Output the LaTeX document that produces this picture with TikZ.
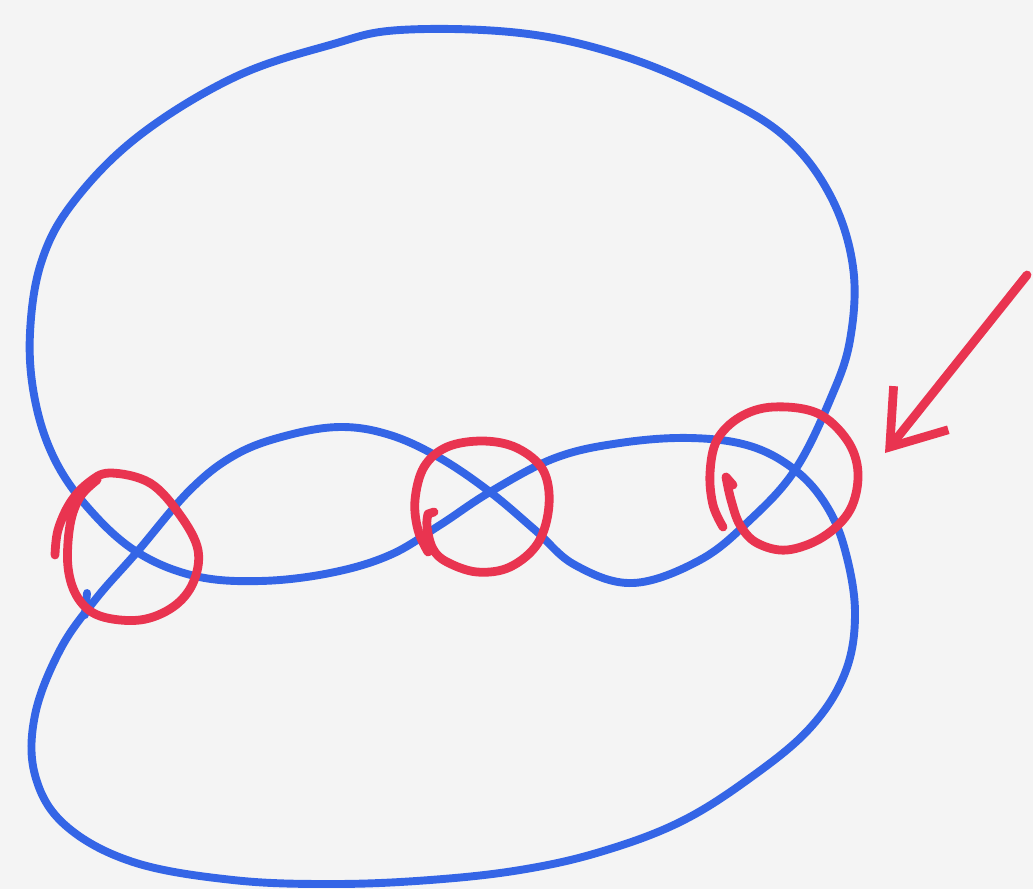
\documentclass[tikz,border=0pt]{standalone}
\usetikzlibrary{arrows.meta}

\definecolor{knotblue}{RGB}{52,101,230}
\definecolor{markred}{RGB}{233,52,80}
\definecolor{paper}{RGB}{244,244,244}

\begin{document}
\begin{tikzpicture}[
        x=0.02cm, y=-0.02cm,
        % Stile fuer Knoten und Markierungen
        knot/.style={draw=knotblue, line width=4.5pt, line cap=round, line join=round},
        ring/.style={draw=markred, line width=5pt, line cap=round, line join=round},
        pointer/.style={-{Straight Barb[length=1cm, width=1.4cm]}, draw=markred, line width=5pt, line cap=round, line join=round}
    ]

    % Hintergrund / Rahmen
    \fill[paper] (0,0) rectangle (1033,889);
    \useasboundingbox (0,0) rectangle (1033,889);

    % ==========================================
    % 1. KREUZUNGEN UND PFEIL-PUNKTE
    % ==========================================
    \coordinate (crossL) at (137,552);
    \coordinate (crossM) at (490,492);
    \coordinate (crossR) at (795,470);

    \coordinate (arrowtail) at (1027,275);
    \coordinate (arrowtip)  at (885,453);

    % ==========================================
    % 2. KNOTEN-DIAGRAMM (eine geschlossene Linie)
    % ==========================================
    \draw[knot] plot[smooth cycle, tension=0.62] coordinates {
        (400,30) (520,33) (620,55) (710,92) (783,135) (830,195) (853,267)
        (850,340) (830,400) (crossR) (750,520) (700,560) (633,583) (575,565)
        (535,530) (crossM) (440,458) (390,435) (340,427) (285,436) (235,455)
        (190,490) (crossL) (95,600) (60,650) (35,715) (35,775) (65,825)
        (133,862) (233,880) (333,884) (430,880) (520,870) (600,852) (680,822)
        (750,778) (810,728) (845,673) (855,613) (845,550) (826,505) (crossR)
        (750,446) (690,438) (620,443) (555,458) (crossM) (440,525) (390,555)
        (330,573) (260,581) (195,576) (crossL) (90,510) (55,460) (35,400)
        (30,333) (42,260) (75,200) (140,135) (235,77) (330,45)
    };
    % kleiner Ansatz des Stifts
    \draw[knot] (87,593) -- (85,615);

    % ==========================================
    % 3. MARKIERUNGEN (Kreise um die Kreuzungen)
    % ==========================================
    % links
    \draw[ring] plot[smooth, tension=0.6] coordinates {
        (55,555) (58,530) (70,503) (88,483) (110,473) (150,483) (180,515)
        (198,550) (193,583) (173,607) (140,620) (100,616) (78,598) (68,567)
        (70,525) (80,497) (97,480)
    };
    % Mitte
    \draw[ring] (434,512) -- plot[smooth, tension=0.6] coordinates {
        (428,514) (427,527) (433,549) (447,562) (477,572) (510,567) (538,543)
        (549,505) (543,470) (517,448) (483,441) (447,447) (424,467) (415,500)
        (418,530) (428,552)
    };
    % rechts
    \draw[ring] (733,485) -- plot[smooth, tension=0.6] coordinates {
        (726,477) (731,500) (740,525) (757,543) (787,550) (823,537) (850,510)
        (858,473) (847,440) (817,413) (773,407) (740,417) (717,440) (710,473)
        (713,505) (723,527)
    };

    % ==========================================
    % 4. PFEIL
    % ==========================================
    \draw[pointer] (arrowtail) -- (arrowtip);

\end{tikzpicture}
\end{document}
